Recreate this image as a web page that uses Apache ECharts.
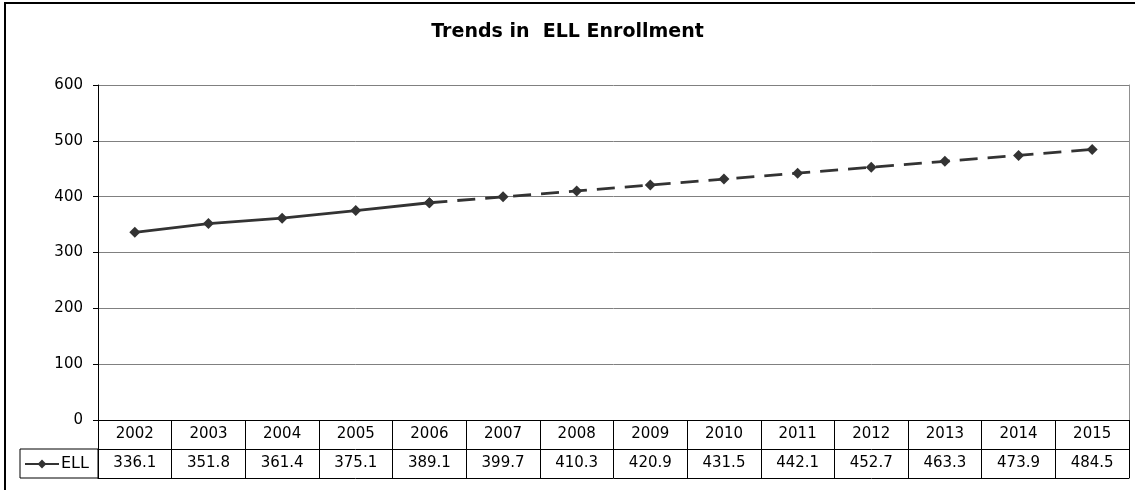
<!DOCTYPE html>
<html>
<head>
<meta charset="utf-8">
<title>Trends in ELL Enrollment</title>
<script src="https://cdn.jsdelivr.net/npm/echarts@6/dist/echarts.min.js"></script>
</head>
<body style="margin:0">
<div id="main" style="width:1135px;height:490px;"></div>
<script>
var years = ['2002', '2003', '2004', '2005', '2006', '2007', '2008', '2009', '2010', '2011', '2012', '2013', '2014', '2015'];
var ell = [336.1, 351.8, 361.4, 375.1, 389.1, 399.7, 410.3, 420.9, 431.5, 442.1, 452.7, 463.3, 473.9, 484.5];
var lastActual = 4; // 2006 - after this the line is dashed (projection)
var yTicks = [0, 100, 200, 300, 400, 500, 600];

var font = 'DejaVu Sans';
var ink = '#333333';

// solid up to 2006, dashed from 2006 on
var actual = ell.map(function (v, i) { return i <= lastActual ? v : '-'; });
var projected = ell.map(function (v, i) { return i >= lastActual ? v : '-'; });

var myChart = echarts.init(document.getElementById('main'));
var option = {
    animation: false,
    title: {
        text: 'Trends in  ELL Enrollment',
        left: 'center',
        top: 18,
        textStyle: { fontFamily: font, fontSize: 19, fontWeight: 'bold', color: '#000' }
    },
    legend: {
        data: ['ELL'],
        left: 24,
        top: 456,
        padding: 0,
        itemWidth: 34,
        itemHeight: 11,
        itemGap: 0,
        textStyle: { fontFamily: font, fontSize: 16, color: '#000', padding: [0, 0, 0, -3] }
    },
    grid: { left: 98, right: 6, top: 85, bottom: 70, containLabel: false },
    xAxis: [
        {
            type: 'category',
            data: years,
            position: 'bottom',
            axisLine: { onZero: false, lineStyle: { color: '#000', width: 1 } },
            axisTick: { show: true, length: 58, lineStyle: { color: '#000' } },
            axisLabel: { margin: 7, fontFamily: font, fontSize: 15, color: '#000' }
        },
        {
            type: 'category',
            data: ell.map(function (v) { return v.toFixed(1); }),
            position: 'bottom',
            offset: 29,
            axisLine: { onZero: false, lineStyle: { color: '#000', width: 1 } },
            axisTick: { show: false },
            axisLabel: { margin: 7, fontFamily: font, fontSize: 15, color: '#000' }
        },
        {
            type: 'category',
            data: years,
            position: 'bottom',
            offset: 58,
            axisLine: { onZero: false, lineStyle: { color: '#000', width: 1 } },
            axisTick: { show: false },
            axisLabel: { show: false }
        }
    ],
    yAxis: [
        {
            type: 'value',
            min: yTicks[0],
            max: yTicks[yTicks.length - 1],
            interval: 100,
            axisLine: { show: true, lineStyle: { color: '#000' } },
            axisTick: { show: true, length: 5, lineStyle: { color: '#000' } },
            axisLabel: { margin: 15, fontFamily: font, fontSize: 15, color: '#000' },
            splitLine: { lineStyle: { color: '#808080', width: 1 } }
        },
        {
            type: 'value',
            position: 'right',
            min: 0,
            max: 600,
            interval: 100,
            axisLine: { show: true, lineStyle: { color: '#909090' } },
            axisTick: { show: false },
            axisLabel: { show: false },
            splitLine: { show: false }
        }
    ],
    series: [
        {
            name: 'ELL',
            type: 'line',
            data: actual,
            symbol: 'diamond',
            symbolSize: 11,
            itemStyle: { color: ink },
            lineStyle: { color: ink, width: 2.8 }
        },
        {
            name: 'ELL',
            type: 'line',
            data: projected,
            symbol: 'diamond',
            symbolSize: 11,
            itemStyle: { color: ink },
            lineStyle: { color: ink, width: 2.8, type: [18, 10] }
        }
    ],
    graphic: [
        // outer chart frame (only left and top edges are visible)
        {
            type: 'rect',
            shape: { x: 5, y: 3, width: 1200, height: 600 },
            style: { fill: null, stroke: '#000', lineWidth: 2 },
            silent: true
        },
        // legend key cell in the data table
        {
            type: 'rect',
            shape: { x: 20, y: 449, width: 78, height: 29 },
            style: { fill: null, stroke: '#000', lineWidth: 1 },
            silent: true
        }
    ]
};
myChart.setOption(option);
</script>
</body>
</html>
